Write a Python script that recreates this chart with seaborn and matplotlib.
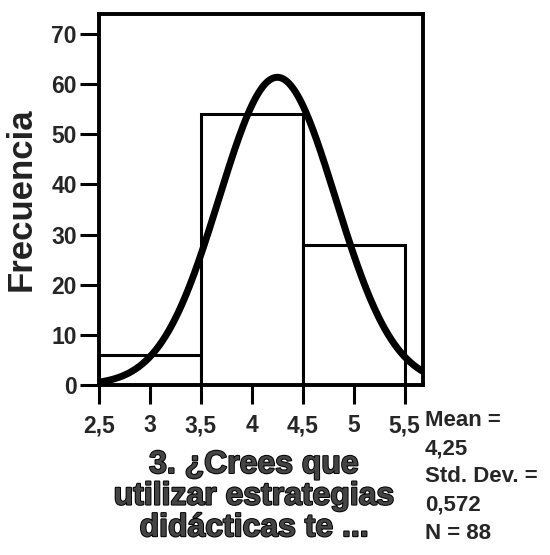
import numpy as np
import pandas as pd
import matplotlib
matplotlib.use("Agg")
import matplotlib.pyplot as plt
import matplotlib.patheffects as pe
import seaborn as sns

# ---- data ----
bin_edges = [2.5, 3.5, 4.5, 5.5]
bin_centers = [3.0, 4.0, 5.0]
counts = [6, 54, 28]
mean_val = 4.25
std_dev = 0.572
n_total = 88
x_ticks = [2.5, 3, 3.5, 4, 4.5, 5, 5.5]
x_tick_labels = ["2,5", "3", "3,5", "4", "4,5", "5", "5,5"]
y_ticks = [0, 10, 20, 30, 40, 50, 60, 70]
y_tick_labels = ["0", "10", "20", "30", "40", "50", "60", "70"]
x_title = "3. ¿Crees que\nutilizar estrategias\ndidácticas te ..."
y_title = "Frecuencia"
stats_text = "Mean =\n4,25\nStd. Dev. =\n0,572\nN = 88"

sns.set_style("white")
plt.rcParams["font.family"] = ["Liberation Sans", "DejaVu Sans"]

fig = plt.figure(figsize=(5.5, 5.55), dpi=100)
ax = fig.add_axes([99 / 550, 1 - 385 / 555, (423 - 99) / 550, (385 - 14) / 555])

df = pd.DataFrame({"valor": bin_centers, "n": counts})
sns.histplot(data=df, x="valor", weights="n", bins=bin_edges, ax=ax,
             color="white", edgecolor="black", linewidth=2.2, alpha=1)

# fitted normal curve (bin width 1)
xlim = (2.5, 5.68)
xs = np.linspace(xlim[0], xlim[1], 400)
bw = bin_edges[1] - bin_edges[0]
ys = n_total * bw / (std_dev * np.sqrt(2 * np.pi)) * np.exp(-0.5 * ((xs - mean_val) / std_dev) ** 2)
sns.lineplot(x=xs, y=ys, ax=ax, color="black", linewidth=5, zorder=5)

ax.set_xlim(*xlim)
ax.set_ylim(0, 74)
ax.set_xticks(x_ticks)
ax.set_xticklabels(x_tick_labels)
ax.set_yticks(y_ticks)
ax.set_yticklabels(y_tick_labels)
ax.tick_params(axis="both", direction="out", length=14, width=2.2, labelsize=16.5,
               bottom=True, left=True, color="black")
ax.tick_params(axis="x", pad=7)
ax.tick_params(axis="y", pad=2)
for lab in ax.get_xticklabels() + ax.get_yticklabels():
    lab.set_fontweight("bold")
for sp in ax.spines.values():
    sp.set_visible(True)
    sp.set_linewidth(2.8)
    sp.set_color("black")

ax.set_xlabel("")
ax.set_ylabel(y_title, fontsize=25, fontweight="bold", color="#222222")
ax.yaxis.set_label_coords(-0.19, 0.5)

fig.text(254 / 550, 1 - 450 / 555, x_title, ha="center", va="top", fontsize=23,
         fontweight="bold", linespacing=1.07, color="#444444",
         path_effects=[pe.withStroke(linewidth=1.4, foreground="black")])
fig.text(425 / 550, 1 - 410 / 555, stats_text, ha="left", va="top", fontsize=16,
         linespacing=1.45, fontweight="bold")

fig.savefig("out.png", dpi=100)
